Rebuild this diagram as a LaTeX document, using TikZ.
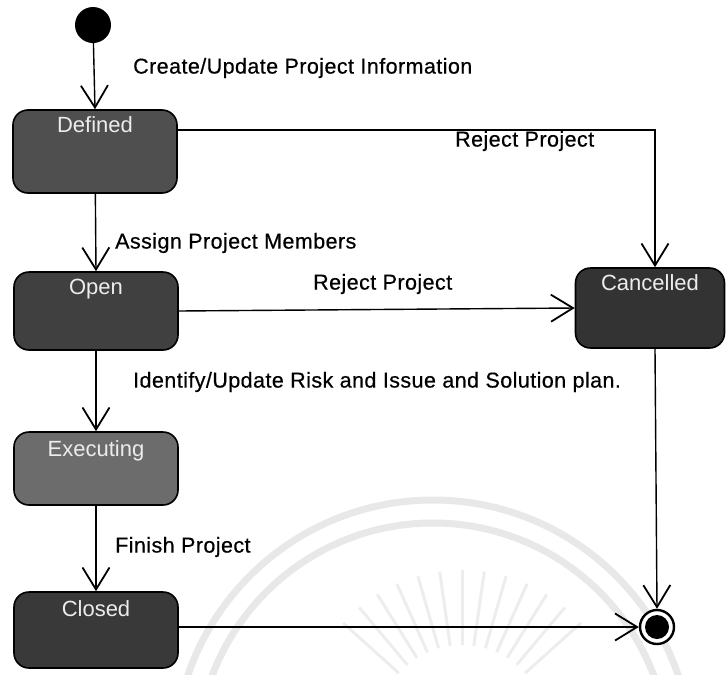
\documentclass[tikz,border=0pt]{standalone}
\usepackage{fontspec}
\setmainfont{Liberation Sans}
\newfontfamily\lblfont[FakeBold=0.5,LetterSpace=2]{Liberation Sans}
\usetikzlibrary{arrows.meta,positioning}
\begin{document}
\begin{tikzpicture}[x=1pt,y=-1pt,
  every node/.style={font=\fontsize{22}{26}\selectfont},
  statebox/.style={draw=black,line width=1.6pt,rounded corners=15pt,
    minimum width=164pt,inner sep=0pt},
  statelabel/.style={text=gray!15,font=\fontsize{22}{26}\selectfont,anchor=north},
  trans/.style={line width=1.4pt,-{Straight Barb[length=22pt,width=27pt,line width=1.8pt]}},
  tlabel/.style={anchor=west,inner sep=0pt,text=black,font=\lblfont\fontsize{21.5}{26}\selectfont},
  wmark/.style={draw=gray!18,line width=7pt}]
\useasboundingbox (0,0) rectangle (726,675);

% faint emblem in the background
\draw[wmark] (174,759) arc[start angle=180,end angle=0,radius=259pt];
\draw[wmark] (197,759) arc[start angle=180,end angle=0,radius=236pt];
\foreach \a in {42,50,...,138}
  \draw[draw=gray!14,line width=3pt,shift={(462,730)}] (\a:85pt) -- (\a:160pt);

% initial and final states
\node[circle,fill=black,minimum size=36pt,inner sep=0pt] (init) at (93,25) {};
\node[circle,draw=black,line width=2.4pt,fill=white,minimum size=34pt,inner sep=0pt] (final) at (657,627) {};
\fill[black] (final) circle[radius=12pt];

% states
\node[statebox,fill=gray!62!black,minimum height=83pt] (defined) at (95,151.5) {};
\node[statelabel] at ([yshift=-4pt]defined.north) {Defined};
\node[statebox,fill=gray!50!black,minimum height=78pt] (open) at (96,311) {};
\node[statelabel] at ([yshift=-4pt]open.north) {Open};
\node[statebox,fill=gray!85!black,minimum height=73pt] (exec) at (96,468.5) {};
\node[statelabel] at ([yshift=-6pt]exec.north) {Executing};
\node[statebox,fill=gray!45!black,minimum height=76pt] (closed) at (96,630) {};
\node[statelabel] at ([yshift=-6pt]closed.north) {Closed};
\node[statebox,fill=gray!40!black,minimum width=149pt,minimum height=80pt] (cancel) at (650,308) {};
\node[statelabel] at ([yshift=-4pt]cancel.north) {Cancelled};

% transitions
\draw[trans] (init) -- (defined.north);
\draw[trans] ([yshift=21.5pt]defined.east) -| ([xshift=5pt]cancel.north);
\draw[trans] (defined) -- (open.north);
\draw[trans] (open.east) -- (cancel.west);
\draw[trans] (open) -- (exec.north);
\draw[trans] (exec) -- (closed.north);
\draw[trans] ([yshift=3pt]closed.east) -- (final.west);
\draw[trans] ([xshift=5pt]cancel.south) -- (final.north);

% transition labels
\node[tlabel] (l1) at (133,68) {Create/Update Project Information};
\node[tlabel] (l2) at (455,141) {Reject Project};
\node[tlabel] (l3) at (115,243) {Assign Project Members};
\node[tlabel] (l4) at (313,284) {Reject Project};
\node[tlabel] (l5) at (133,382) {Identify/Update Risk and Issue and Solution plan.};
\node[tlabel] (l6) at (115,547) {Finish Project};
\end{tikzpicture}
\end{document}
